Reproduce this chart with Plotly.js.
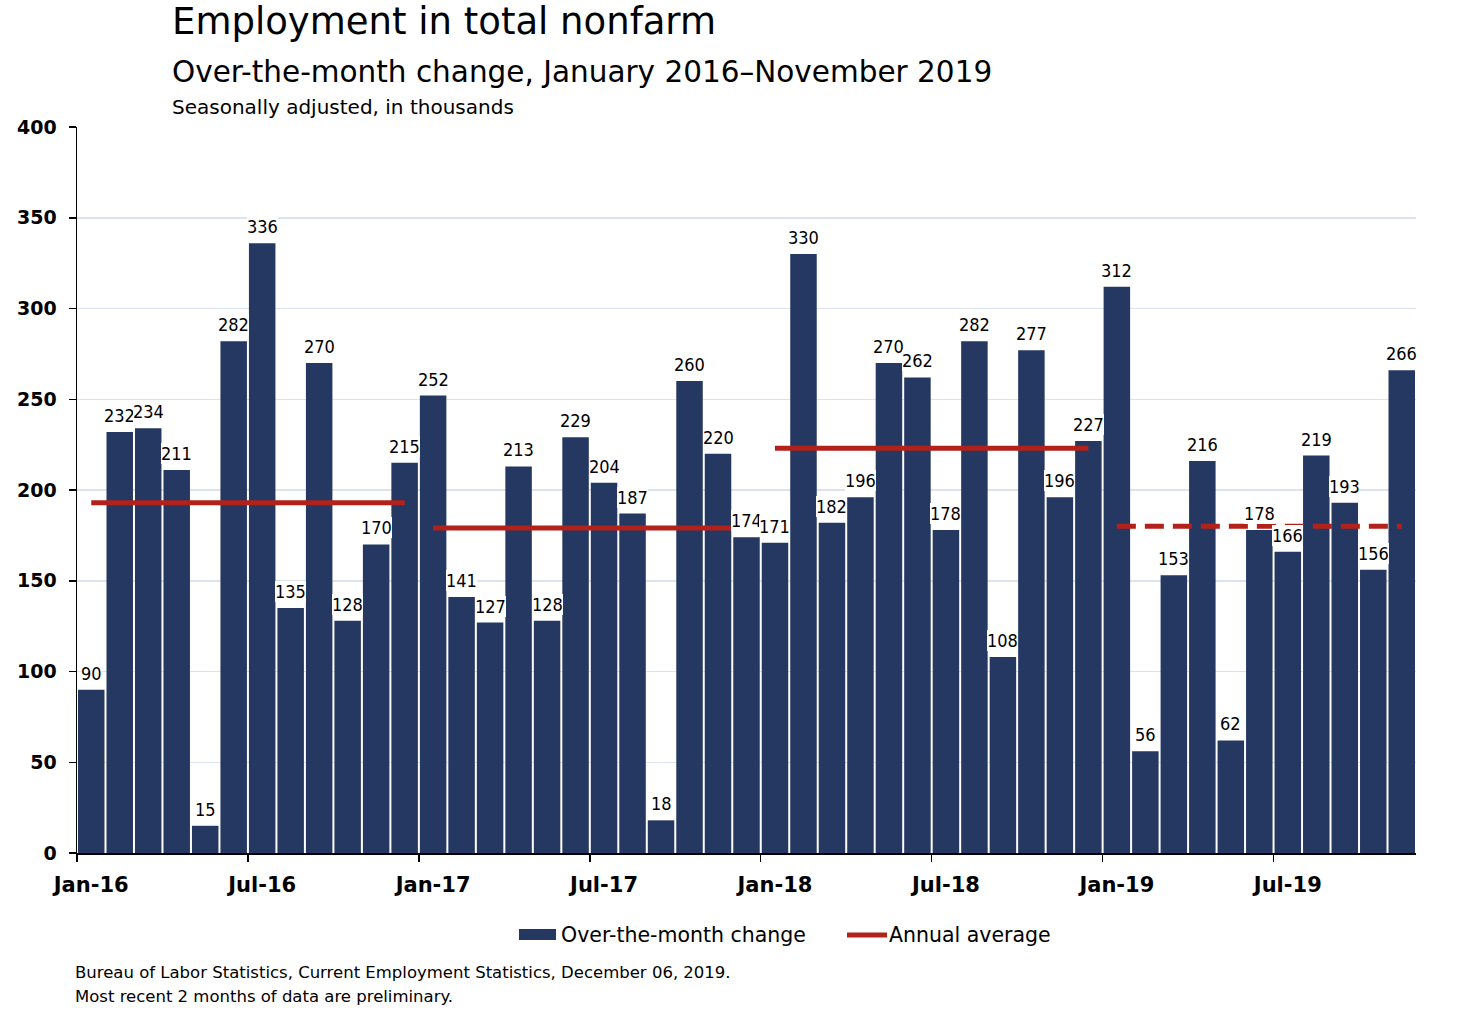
<!DOCTYPE html>
<html>
<head>
<meta charset="utf-8">
<script src="https://cdn.plot.ly/plotly-3.0.1.min.js"></script>
<style>
  html, body { margin: 0; padding: 0; background: #fff; }
  #chart { width: 1481px; height: 1010px; }
</style>
</head>
<body>
<div id="chart"></div>
<script>
// over-the-month change, thousands, Jan 2016 - Nov 2019
var change2016 = [90, 232, 234, 211, 15, 282, 336, 135, 270, 128, 170, 215]
var change2017 = [252, 141, 127, 213, 128, 229, 204, 187, 18, 260, 220, 174]
var change2018 = [171, 330, 182, 196, 270, 262, 178, 282, 108, 277, 196, 227]
var change2019 = [312, 56, 153, 216, 62, 178, 166, 219, 193, 156, 266]

var years = [2016, 2017, 2018, 2019]
var annualAvg = [193, 179, 223, 180]
var tickLabels = ['Jan-16', 'Jul-16', 'Jan-17', 'Jul-17', 'Jan-18', 'Jul-18', 'Jan-19', 'Jul-19']

var NAVY = '#253862'
var RED = '#b2221b'
var FONT = '"DejaVu Sans", Verdana, sans-serif'
var NARROW = '"DejaVu Sans Condensed", "DejaVu Sans", sans-serif'

// plot area in pixels (used for placing text outside the axes)
var L = 77, R = 1416, T = 127, B = 853
function px(x) { return (x - L) / (R - L) }
function py(y) { return (B - y) / (B - T) }

var perYear = [change2016, change2017, change2018, change2019]
var values = [].concat.apply([], perYear)
var xs = values.map((v, i) => i + 0.5)

var bars = {
    x: xs,
    y: values,
    type: 'bar',
    name: 'Over-the-month change',
    marker: { color: NAVY, line: { width: 0 } },
    hoverinfo: 'y',
    showlegend: false
}

var data = [bars]
var start = 0
perYear.forEach((arr, k) => {
    data.push({
        x: [start + 0.5, start + arr.length - 0.5],
        y: [annualAvg[k], annualAvg[k]],
        xaxis: 'x2',
        mode: 'lines',
        type: 'scatter',
        name: 'Annual average ' + years[k],
        line: { color: RED, width: 5, dash: k == perYear.length - 1 ? '19px,9px' : 'solid' },
        showlegend: false
    })
    start += arr.length
});

// value labels on a white box like the original
var annotations = values.map((v, i) => ({
    x: xs[i], y: v, xref: 'x', yref: 'y',
    text: String(v), showarrow: false,
    yanchor: 'bottom', yshift: 6,
    bgcolor: '#ffffff', borderpad: 0, borderwidth: 0,
    font: { family: NARROW, size: 18, color: '#000' }
}))

function txt(text, x, y, size, extra) {
    return Object.assign({
        text: text, xref: 'paper', yref: 'paper', x: px(x), y: py(y),
        xanchor: 'left', yanchor: 'middle', showarrow: false,
        font: { family: FONT, size: size, color: '#000' }
    }, extra || {})
}

annotations.push(txt('Employment in total nonfarm', 170, 22, 37))
annotations.push(txt('Over-the-month change, January 2016\u2013November 2019', 170, 72, 29.5))
annotations.push(txt('Seasonally adjusted, in thousands', 170, 107, 20))
annotations.push(txt('Over-the-month change', 559, 935, 20.5))
annotations.push(txt('Annual average', 887, 935, 20.5))
annotations.push(txt('Bureau of Labor Statistics, Current Employment Statistics, December 06, 2019.', 73, 972, 16.5))
annotations.push(txt('Most recent 2 months of data are preliminary.', 73, 996, 16.5))

var shapes = [
    { type: 'rect', xref: 'paper', yref: 'paper', x0: px(519), x1: px(556), y0: py(940), y1: py(929),
      fillcolor: NAVY, line: { width: 0 } },
    { type: 'line', xref: 'paper', yref: 'paper', x0: px(847), x1: px(887), y0: py(935), y1: py(935),
      line: { color: RED, width: 5 } }
]

var layout = {
    width: 1481,
    height: 1010,
    margin: { l: L, r: 1481 - R, t: T, b: 1010 - B },
    paper_bgcolor: '#fff',
    plot_bgcolor: '#fff',
    bargap: 0.07,
    showlegend: false,
    xaxis: {
        range: [0, values.length],
        tickvals: tickLabels.map((t, i) => i * 6 + 0.5),
        ticktext: tickLabels,
        ticks: '',
        ticklabelstandoff: 12,
        showgrid: false,
        zeroline: false,
        showline: true,
        linecolor: '#000',
        linewidth: 1.5,
        tickfont: { family: FONT, size: 21, color: '#000', weight: 'bold' },
        fixedrange: true
    },
    xaxis2: {
        overlaying: 'x',
        side: 'bottom',
        range: [0, values.length],
        tickvals: tickLabels.map((t, i) => i * 6),
        showticklabels: false,
        ticks: 'outside',
        ticklen: 8,
        tickwidth: 1.5,
        tickcolor: '#000',
        showgrid: false,
        zeroline: false,
        showline: false,
        fixedrange: true
    },
    yaxis: {
        range: [0, 400],
        dtick: 50,
        showgrid: true,
        gridcolor: '#dde3ee',
        gridwidth: 1.5,
        zeroline: false,
        showline: true,
        linecolor: '#000',
        linewidth: 1.5,
        ticks: 'outside',
        ticklen: 7,
        tickwidth: 1.5,
        tickcolor: '#000',
        ticklabelstandoff: 8,
        tickfont: { family: FONT, size: 19, color: '#000', weight: 'bold' },
        fixedrange: true
    },
    annotations: annotations,
    shapes: shapes
}

Plotly.newPlot('chart', data, layout, { displayModeBar: false, staticPlot: true })
</script>
</body>
</html>
